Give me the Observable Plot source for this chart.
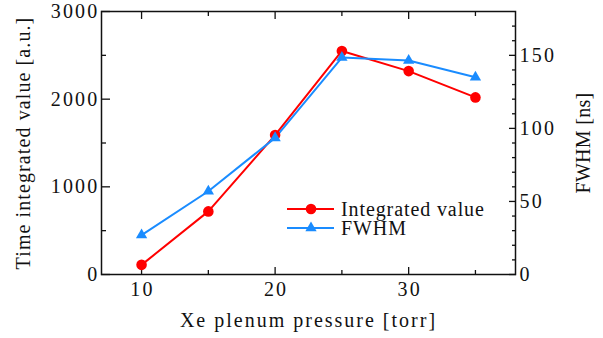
<!DOCTYPE html>
<html>
<head>
<meta charset="utf-8">
<script src="https://cdn.jsdelivr.net/npm/d3@7"></script>
<script src="https://cdn.jsdelivr.net/npm/@observablehq/plot@0.6"></script>
<style>
  html, body { margin: 0; padding: 0; background: #fff; }
  #wrap { position: relative; width: 603px; height: 338px; }
  #wrap svg text {
    font-family: "Liberation Serif", "Times New Roman", serif;
    font-variant-numeric: normal;
    font-size: 20px;
  }
  #legend { position: absolute; left: 0; top: 0; pointer-events: none; }
  #legend text { letter-spacing: 0.9px; }
</style>
</head>
<body>
<div id="wrap"></div>
<script>
// Xe plenum pressure [torr]
const pressure = [10, 15, 20, 25, 30, 35];
// Time-integrated signal [a.u.] (left axis)
const integrated = [110, 720, 1590, 2550, 2320, 2020];
// Pulse FWHM [ns] (right axis)
const fwhm = [27, 57, 93.5, 148.5, 146.5, 135];

const seriesNames = ["Integrated value", "FWHM"];
const seriesColors = ["#ff0000", "#1a8cff"];

const xTicksMajor = [10, 20, 30];
const xTicksMinor = [15, 25, 35];
const leftTicksMajor = [0, 1000, 2000, 3000];
const leftTicksMinor = [500, 1500, 2500];
const rightTicksMajor = [0, 50, 100, 150];
const rightTicksMinor = [10, 20, 30, 40, 60, 70, 80, 90, 110, 120, 130, 140, 160, 170];

const xTitle = "Xe plenum pressure [torr]";
const yTitle = "Time integrated value [a.u.]";
const y2Title = "FWHM [ns]";

const leftMax = 3000, rightMax = 180;
const k = leftMax / rightMax; // FWHM -> left-axis units

const rowsI = pressure.map((p, i) => ({p, v: integrated[i]}));
const rowsF = pressure.map((p, i) => ({p, v: fwhm[i] * k}));

const font = "Liberation Serif, Times New Roman, serif";
const ink = "#111";
const fmt = d3.format("d");
const blank = () => "";
const tick = {strokeWidth: 1.3, label: null, stroke: ink, tickFormat: blank};

const chart = Plot.plot({
  width: 603,
  height: 338,
  marginLeft: 101,
  marginRight: 88,
  marginTop: 11,
  marginBottom: 64,
  style: {fontFamily: font, fontSize: "20px", color: ink, background: "#fff"},
  x: {domain: [7, 38], axis: null},
  y: {domain: [0, leftMax], axis: null},
  marks: [
    // inward tick marks on all four sides
    Plot.axisX(xTicksMajor, {...tick, anchor: "bottom", tickSize: -7}),
    Plot.axisX(xTicksMinor, {...tick, anchor: "bottom", tickSize: -4}),
    Plot.axisX(xTicksMajor, {...tick, anchor: "top", tickSize: -7}),
    Plot.axisX(xTicksMinor, {...tick, anchor: "top", tickSize: -4}),
    Plot.axisY(leftTicksMajor, {...tick, anchor: "left", tickSize: -9}),
    Plot.axisY(leftTicksMinor, {...tick, anchor: "left", tickSize: -5}),
    Plot.axisY(rightTicksMajor.map(v => v * k), {...tick, anchor: "right", tickSize: -7}),
    Plot.axisY(rightTicksMinor.map(v => v * k), {...tick, anchor: "right", tickSize: -4}),
    Plot.frame({stroke: ink, strokeWidth: 1.5}),
    // tick labels
    Plot.text(xTicksMajor, {x: d => d, text: fmt, frameAnchor: "bottom", textAnchor: "middle", lineAnchor: "top", dy: 7, dx: 1, fill: ink}),
    Plot.text(leftTicksMajor, {y: d => d, text: fmt, frameAnchor: "left", textAnchor: "end", lineAnchor: "middle", dx: -2, fill: ink}),
    Plot.text(rightTicksMajor, {y: d => d * k, text: fmt, frameAnchor: "right", textAnchor: "start", lineAnchor: "middle", dx: 4, fill: ink}),
    // axis titles
    Plot.text([yTitle], {frameAnchor: "left", text: d => d, rotate: -90, textAnchor: "middle", lineAnchor: "middle", dx: -78, fill: ink}),
    Plot.text([y2Title], {frameAnchor: "right", text: d => d, rotate: -90, textAnchor: "middle", lineAnchor: "middle", dx: 68, fill: ink}),
    Plot.text([xTitle], {frameAnchor: "bottom", text: d => d, textAnchor: "middle", dy: 46, lineAnchor: "middle", fill: ink}),
    // series
    Plot.line(rowsI, {x: "p", y: "v", stroke: seriesColors[0], strokeWidth: 2}),
    Plot.line(rowsF, {x: "p", y: "v", stroke: seriesColors[1], strokeWidth: 2}),
    Plot.dot(rowsI, {x: "p", y: "v", fill: seriesColors[0], r: 5.3, symbol: "circle"}),
    Plot.dot(rowsF, {x: "p", y: "v", fill: seriesColors[1], r: 4.2, symbol: "triangle"})
  ]
});

// letter spacing: titles individually, numeric tick labels wider
const spacing = new Map([[xTitle, "2px"], [yTitle, "1.1px"], [y2Title, "0.3px"]]);
d3.select(chart).selectAll("text")
  .style("letter-spacing", function() { return spacing.get(this.textContent) || "2.2px"; });

const wrap = document.getElementById("wrap");
wrap.appendChild(chart);

// legend, placed inside the plot area at lower right
const leg = d3.select(wrap).append("svg")
  .attr("id", "legend")
  .attr("width", 603).attr("height", 338);
seriesNames.forEach((name, i) => {
  const g = leg.append("g").attr("transform", `translate(287, ${209 + i * 19})`);
  g.append("line").attr("x1", 0).attr("x2", 47).attr("y1", 0).attr("y2", 0)
    .attr("stroke", seriesColors[i]).attr("stroke-width", 2);
  if (i === 0) {
    g.append("circle").attr("cx", 24).attr("cy", 0).attr("r", 5.3).attr("fill", seriesColors[i]);
  } else {
    g.append("path").attr("transform", "translate(24,0)")
      .attr("d", d3.symbol(d3.symbolTriangle, Math.PI * 4.2 * 4.2)()).attr("fill", seriesColors[i]);
  }
  g.append("text").attr("x", 54).attr("y", 0).attr("dy", "0.35em").attr("fill", ink).text(name);
});
</script>
</body>
</html>
